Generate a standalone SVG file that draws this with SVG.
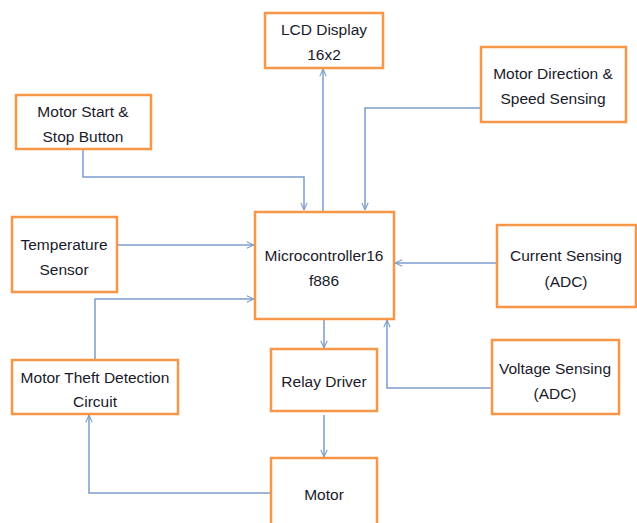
<svg xmlns="http://www.w3.org/2000/svg" width="637" height="523" viewBox="0 0 637 523">
<style>
.box{fill:#fff;stroke:#F79646;stroke-width:2.5}
.t{font-family:"Liberation Sans",Arial,sans-serif;font-size:15.5px;fill:#1a1a2a;text-anchor:middle}
.c{fill:none;stroke:#7B9CCB;stroke-width:1.5}
</style>
<defs>
<marker id="a" viewBox="0 0 10 10" refX="10" refY="5" markerWidth="8" markerHeight="8" markerUnits="userSpaceOnUse" orient="auto">
<path d="M1,1 L10,5 L1,9" fill="none" stroke="#7B9CCB" stroke-width="1.3"/>
</marker>
</defs>
<rect width="637" height="523" fill="#fff"/>
<g id="connectors">
<path class="c" d="M323,211 V69" marker-end="url(#a)"/>
<path class="c" d="M481,108 H365 V210" marker-end="url(#a)"/>
<path class="c" d="M83,150 V177 H304 V210" marker-end="url(#a)"/>
<path class="c" d="M118,245 H254" marker-end="url(#a)"/>
<path class="c" d="M95,360 V299 H254" marker-end="url(#a)"/>
<path class="c" d="M497,263 H395" marker-end="url(#a)"/>
<path class="c" d="M492,388 H387 V320" marker-end="url(#a)"/>
<path class="c" d="M324,320 V348" marker-end="url(#a)"/>
<path class="c" d="M324,415 V457" marker-end="url(#a)"/>
<path class="c" d="M271,493 H89 V415" marker-end="url(#a)"/>
</g>
<g id="lcd"><rect class="box" x="265" y="13" width="118" height="55"/><text class="t" x="324" y="35">LCD Display</text><text class="t" x="324" y="60">16x2</text></g>
<g id="motordir"><rect class="box" x="481" y="47" width="145" height="75"/><text class="t" x="553" y="79">Motor Direction &amp;</text><text class="t" x="553" y="104">Speed Sensing</text></g>
<g id="startstop"><rect class="box" x="16" y="95" width="135" height="54"/><text class="t" x="83" y="117">Motor Start &amp;</text><text class="t" x="83" y="142">Stop Button</text></g>
<g id="temp"><rect class="box" x="12" y="217" width="105" height="75"/><text class="t" x="64" y="250">Temperature</text><text class="t" x="64" y="275">Sensor</text></g>
<g id="micro"><rect class="box" x="255" y="212" width="139" height="107"/><text class="t" x="324" y="261">Microcontroller16</text><text class="t" x="324" y="286">f886</text></g>
<g id="current"><rect class="box" x="497" y="225" width="139" height="82"/><text class="t" x="566" y="261">Current Sensing</text><text class="t" x="566" y="287">(ADC)</text></g>
<g id="voltage"><rect class="box" x="492" y="340" width="127" height="74"/><text class="t" x="555" y="374">Voltage Sensing</text><text class="t" x="555" y="399">(ADC)</text></g>
<g id="theft"><rect class="box" x="12" y="360" width="166" height="54"/><text class="t" x="95" y="383">Motor Theft Detection</text><text class="t" x="95" y="407">Circuit</text></g>
<g id="relay"><rect class="box" x="271" y="349" width="106" height="62"/><text class="t" x="324" y="387">Relay Driver</text></g>
<g id="motor"><rect class="box" x="271" y="458" width="106" height="80"/><text class="t" x="324" y="500">Motor</text></g>
</svg>
